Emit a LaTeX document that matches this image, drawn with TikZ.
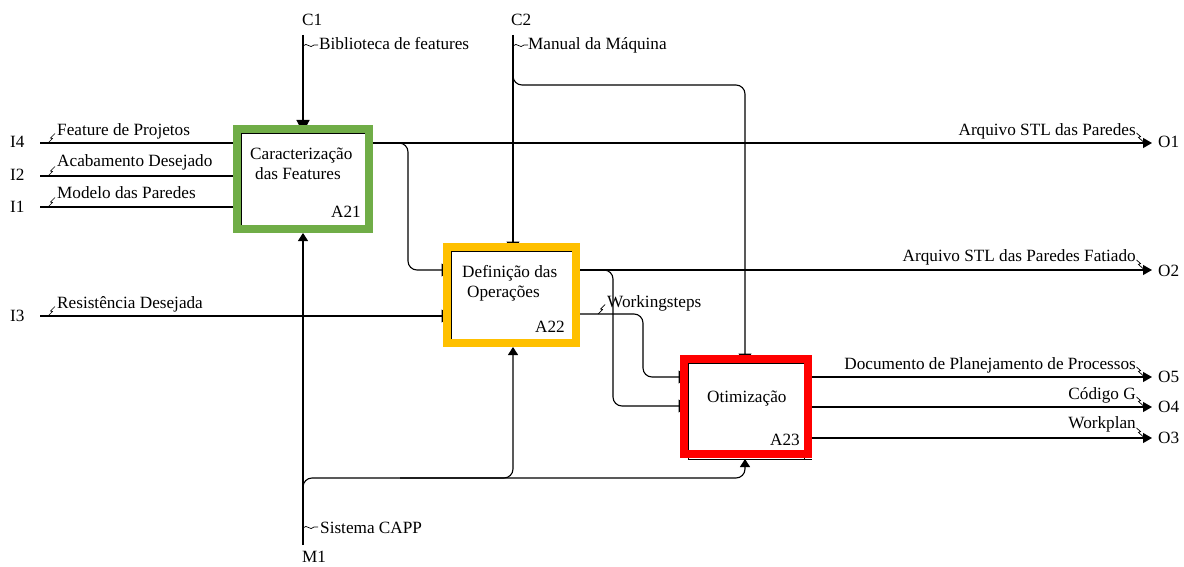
\documentclass[tikz,border=0pt]{standalone}
\usepackage{fontspec}
\setmainfont{Liberation Serif}
\usetikzlibrary{arrows.meta,calc}
\definecolor{fgreen}{RGB}{112,173,71}
\definecolor{fyellow}{RGB}{255,192,0}
\definecolor{fred}{RGB}{255,0,0}
\begin{document}
\begin{tikzpicture}[x=1pt,y=-1pt,
  conn/.style={line width=1.1pt, rounded corners=9pt},
  txt/.style={font=\fontsize{17.2}{20}\selectfont, inner sep=0pt},
  sq/.style={line width=0.7pt},
  tiptop/.style={-{Triangle[length=13pt,width=13pt]}},
  tipbar/.style={-{Triangle[length=9.5pt,width=13pt]}},
  tipup/.style={-{Triangle[length=8pt,width=10pt]}},
  tipout/.style={-{Triangle[length=9pt,width=10pt]}},
  frame/.style={line width=8pt, minimum width=#1, inner sep=0pt},
]
\useasboundingbox (0,0) rectangle (1184,567);
\fill[white] (0,0) rectangle (1184,567);

% ---------- port coordinates ----------
\coordinate (i4) at (40,143);
\coordinate (i2) at (40,176);
\coordinate (i1) at (40,207);
\coordinate (i3) at (40,316);
\coordinate (c1) at (303,35);
\coordinate (c2) at (513,35);
\coordinate (m1) at (303,545);
\coordinate (o1) at (1152,143);
\coordinate (o2) at (1152,270);
\coordinate (o5) at (1152,377);
\coordinate (o4) at (1152,407);
\coordinate (o3) at (1152,438);

% ---------- connectors ----------
% inputs
\draw[conn] (i4) -- (233,143);
\draw[conn] (i2) -- (233,176);
\draw[conn] (i1) -- (233,207);
\draw[conn,tipbar] (i3) -- (451,316);
% controls
\draw[conn,tiptop] (c1) -- (303,133);
\draw[conn,tipbar] (c2) -- (513,251);
\draw[conn,tipbar] (513,70) -- (513,85) -- (745,85) -- (745,363);
% mechanism
\draw[conn,tipup] (m1) -- (303,233);
\draw[conn,tipup] (303,495) -- (303,478) -- (513,478) -- (513,347);
\draw[conn,tipup] (400,478) -- (745,478) -- (745,459);
% A21 outputs
\draw[conn,tipout] (373,143) -- (o1);
\draw[conn,tipbar] (390,143) -- (408,143) -- (408,270) -- (451,270);
% A22 outputs
\draw[conn,tipout] (580,270) -- (o2);
\draw[conn,tipbar] (595,270) -- (613,270) -- (613,406) -- (688,406);
\draw[conn,tipbar] (580,314) -- (643,314) -- (643,377) -- (688,377);
% A23 outputs
\draw[conn,tipout] (812,377) -- (o5);
\draw[conn,tipout] (812,407) -- (o4);
\draw[conn,tipout] (812,438) -- (o3);

% ---------- boxes ----------
\draw[line width=0.9pt] (241,133) rectangle (365,225);
\draw[line width=0.9pt] (451,251) rectangle (572,339);
\draw[line width=0.9pt] (688,363) rectangle (804,459.5);
\draw[line width=0.9pt] (693,459.5) -- (812,459.5);
\node[frame=132pt, draw=fgreen, minimum height=100pt] (A21) at (303,179) {};
\node[frame=129pt, draw=fyellow, minimum height=96pt] (A22) at (511.5,295) {};
\node[frame=124pt, draw=fred, minimum height=95pt] (A23) at (746,406.5) {};

% box texts
\node[txt,anchor=base west] (t21a) at (250,160) {Caracterização};
\node[txt,anchor=base west] (t21b) at (255,180) {das Features};
\node[txt,anchor=base east] (n21) at (361,217) {A21};
\node[txt,anchor=base west] (t22a) at (462,277) {Definição das};
\node[txt,anchor=base west] (t22b) at (467,297) {Operações};
\node[txt,anchor=base east] (n22) at (565,332) {A22};
\node[txt,anchor=base west] (t23a) at (707,402) {Otimização};
\node[txt,anchor=base east] (n23) at (800,445) {A23};

% ---------- ICOM labels ----------
\node[txt,anchor=base west] (li4) at (10,148) {I4};
\node[txt,anchor=base west] (li2) at (10,181) {I2};
\node[txt,anchor=base west] (li1) at (10,212) {I1};
\node[txt,anchor=base west] (li3) at (10,321) {I3};
\node[txt,anchor=base west] (lc1) at (302,26) {C1};
\node[txt,anchor=base west] (lc2) at (511,26) {C2};
\node[txt,anchor=base west] (lm1) at (302,562) {M1};
\node[txt,anchor=base west] (lo1) at (1158,148) {O1};
\node[txt,anchor=base west] (lo2) at (1158,276) {O2};
\node[txt,anchor=base west] (lo5) at (1158,382) {O5};
\node[txt,anchor=base west] (lo4) at (1158,412) {O4};
\node[txt,anchor=base west] (lo3) at (1158,443) {O3};

% ---------- arrow labels ----------
\node[txt,anchor=base west] (a1) at (57,136) {Feature de Projetos};
\node[txt,anchor=base west] (a2) at (57,167) {Acabamento Desejado};
\node[txt,anchor=base west] (a3) at (57,199) {Modelo das Paredes};
\node[txt,anchor=base west] (a4) at (57,308) {Resistência Desejada};
\node[txt,anchor=base west] (a5) at (319,50) {Biblioteca de features};
\node[txt,anchor=base west] (a6) at (528,50) {Manual da Máquina};
\node[txt,anchor=base west] (a7) at (320,533) {Sistema CAPP};
\node[txt,anchor=base west] (a8) at (607,307) {Workingsteps};
\node[txt,anchor=base east] (b1) at (1136,136) {Arquivo STL das Paredes};
\node[txt,anchor=base east] (b2) at (1136,261) {Arquivo STL das Paredes Fatiado};
\node[txt,anchor=base east] (b3) at (1136,369) {Documento de Planejamento de Processos};
\node[txt,anchor=base east] (b4) at (1136,399) {Código G};
\node[txt,anchor=base east] (b5) at (1136,428) {Workplan};

% ---------- squiggles ----------
\foreach \y in {143,176,207,316}
  \draw[sq] (48,\y) -- (52.5,\y-4.5) -- (50.5,\y-5) -- (55,\y-9.5);
\draw[sq] (598,314) -- (602.5,309.5) -- (600.5,309) -- (605,304.5);
\foreach \y in {143,270,377,407,438}
  \draw[sq] (1136.5,\y-10) -- (1140.5,\y-6.5) -- (1138.5,\y-5.5) -- (1143,\y-1.5);
\foreach \x/\y in {303/45,513/45,303/527}
  \draw[sq] (\x,\y+1) .. controls (\x+4,\y-4) and (\x+7,\y+5) .. (\x+11,\y) -- (\x+15,\y);
\end{tikzpicture}
\end{document}
